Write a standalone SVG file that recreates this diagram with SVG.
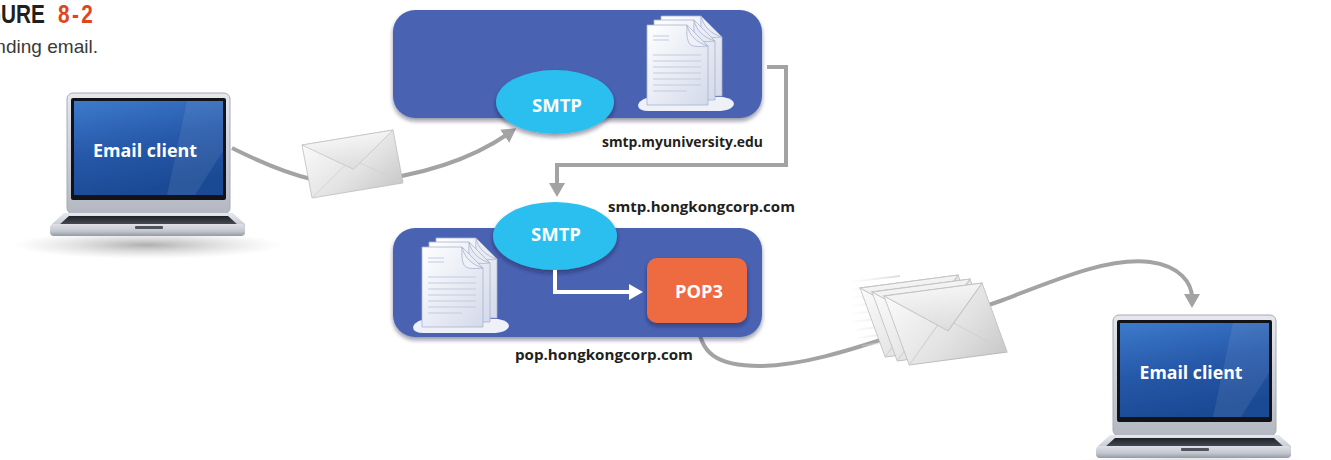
<svg xmlns="http://www.w3.org/2000/svg" xmlns:xlink="http://www.w3.org/1999/xlink" width="1331" height="460" viewBox="0 0 1331 460">
  <style>
    .title { font-family: "Liberation Sans", Arial, sans-serif; font-weight: 700; font-size: 26px; }
    .sub { font-family: "Liberation Sans", Arial, sans-serif; font-size: 19px; fill: #3a3a3a; }
    .screen-label { font-family: "Open Sans", "Noto Sans", sans-serif; font-weight: 700; font-size: 18px; fill: #ffffff; }
    .proto { font-family: "Open Sans", "Noto Sans", sans-serif; font-weight: 700; font-size: 17px; fill: #ffffff; }
    .host { font-family: "Open Sans", "Noto Sans", sans-serif; font-weight: 700; font-size: 15px; fill: #231f20; }
    .server { fill: #4a62b2; }
    .smtp { fill: #2bbfee; }
    .pop { fill: #ee6b40; }
    .wire { fill: none; stroke: #a3a3a3; stroke-width: 4; }
    .wire-white { fill: none; stroke: #ffffff; stroke-width: 4; }
  </style>
  <defs>
    <linearGradient id="silver" x1="0" y1="0" x2="0" y2="1">
      <stop offset="0" stop-color="#e6e8ee"/>
      <stop offset="1" stop-color="#b3b7c1"/>
    </linearGradient>
    <linearGradient id="lip" x1="0" y1="0" x2="0" y2="1">
      <stop offset="0" stop-color="#dfe1e7"/>
      <stop offset="0.6" stop-color="#c2c6ce"/>
      <stop offset="1" stop-color="#9499a3"/>
    </linearGradient>
    <linearGradient id="kbd" x1="0" y1="0" x2="0" y2="1">
      <stop offset="0" stop-color="#202228"/>
      <stop offset="1" stop-color="#4a4e57"/>
    </linearGradient>
    <linearGradient id="screenGrad" x1="0" y1="0" x2="0.3" y2="1">
      <stop offset="0" stop-color="#3d7acb"/>
      <stop offset="0.55" stop-color="#2658a9"/>
      <stop offset="1" stop-color="#1b4a95"/>
    </linearGradient>
    <linearGradient id="paper" x1="0" y1="0" x2="1" y2="1">
      <stop offset="0" stop-color="#ffffff"/>
      <stop offset="1" stop-color="#d3daea"/>
    </linearGradient>
    <linearGradient id="envGrad" x1="0" y1="0" x2="1" y2="1">
      <stop offset="0" stop-color="#fbfbfb"/>
      <stop offset="0.6" stop-color="#e2e2e2"/>
      <stop offset="1" stop-color="#c9c9c9"/>
    </linearGradient>
    <linearGradient id="flapGrad" x1="0" y1="0" x2="0" y2="1">
      <stop offset="0" stop-color="#f4f4f4"/>
      <stop offset="1" stop-color="#dcdcdc"/>
    </linearGradient>
    <linearGradient id="speed" x1="0" y1="0" x2="1" y2="0">
      <stop offset="0" stop-color="#e6e6e6" stop-opacity="0"/>
      <stop offset="1" stop-color="#d8d8d8" stop-opacity="0.9"/>
    </linearGradient>
    <radialGradient id="floor" cx="0.5" cy="0.5" r="0.5">
      <stop offset="0" stop-color="#8c8c8c" stop-opacity="0.7"/>
      <stop offset="1" stop-color="#bdbdbd" stop-opacity="0"/>
    </radialGradient>
    <filter id="drop" x="-10%" y="-10%" width="120%" height="130%">
      <feDropShadow dx="0" dy="3" stdDeviation="2" flood-color="#1a1f3a" flood-opacity="0.45"/>
    </filter>
    <marker id="head" viewBox="0 0 14 16" refX="4" refY="8" markerWidth="14" markerHeight="16" markerUnits="userSpaceOnUse" orient="auto">
      <path d="M0,0 L14,8 L0,16 Z" fill="#a3a3a3"/>
    </marker>
    <marker id="headWhite" viewBox="0 0 14 16" refX="4" refY="8" markerWidth="14" markerHeight="16" markerUnits="userSpaceOnUse" orient="auto">
      <path d="M0,0 L14,8 L0,16 Z" fill="#ffffff"/>
    </marker>

    <!-- laptop, origin at the top-left of the lid -->
    <g id="laptop">
      <ellipse cx="80" cy="152" rx="135" ry="14" fill="url(#floor)"/>
      <rect x="0" y="0" width="163" height="121" rx="6" fill="url(#silver)" stroke="#a6aab3" stroke-width="1"/>
      <rect x="4" y="5" width="155" height="102" rx="2" fill="#121316"/>
      <rect x="7" y="8" width="149" height="94" fill="url(#screenGrad)"/>
      <path d="M120,8 L156,8 L156,58 L128,102 L100,102 Z" fill="#ffffff" opacity="0.08"/>
      <path d="M-3,120 L166,120 L178,131 L178,141 L-15,141 L-15,131 Z" fill="url(#silver)"/>
      <path d="M2,123 L161,123 L171,132 L-8,132 Z" fill="url(#kbd)"/>
      <rect x="-17" y="131" width="195" height="12" rx="4" fill="url(#lip)"/>
      <rect x="68" y="133" width="28" height="3" rx="1" fill="#4f535b"/>
    </g>

    <!-- stack of three pages resting on a soft base -->
    <g id="pages">
      <path d="M-9,80 Q-6,72 8,72 L76,72 Q87,74 87,79 Q85,86 70,86 L2,86 Q-9,86 -9,80 Z" fill="#eef1f8"/>
      <g transform="translate(14,-9)">
        <path d="M0,0 H40 L61,21 V80 H0 Z" fill="url(#paper)" stroke="#a9b3cd" stroke-width="0.8"/>
        <path d="M40,0 C42,10 50,18 61,21 C52,22 44,22 42,18 C39,12 40,6 40,0 Z" fill="#e6ebf5" stroke="#a9b3cd" stroke-width="0.8"/>
      </g>
      <g transform="translate(7,-5)">
        <path d="M0,0 H40 L61,21 V80 H0 Z" fill="url(#paper)" stroke="#a9b3cd" stroke-width="0.8"/>
        <path d="M40,0 C42,10 50,18 61,21 C52,22 44,22 42,18 C39,12 40,6 40,0 Z" fill="#e6ebf5" stroke="#a9b3cd" stroke-width="0.8"/>
      </g>
      <path d="M0,0 H40 L61,21 V80 H0 Z" fill="url(#paper)" stroke="#a9b3cd" stroke-width="0.8"/>
      <path d="M40,0 C42,10 50,18 61,21 C52,22 44,22 42,18 C39,12 40,6 40,0 Z" fill="#eef1f8" stroke="#a9b3cd" stroke-width="0.8"/>
      <g stroke="#c3cbe0" stroke-width="1">
        <path d="M6,11 H22 M6,15 H22 M6,30 H54 M6,36 H54 M6,42 H54 M6,48 H54 M6,54 H54 M6,60 H54 M6,66 H40"/>
      </g>
    </g>

    <!-- envelope in a 100 x 60 frame -->
    <g id="envelope">
      <rect x="0" y="0" width="100" height="60" fill="url(#envGrad)" stroke="#bcbcbc" stroke-width="0.8"/>
      <path d="M0,60 L42,30 M100,60 L58,30" stroke="#cfcfcf" stroke-width="0.8" fill="none"/>
      <path d="M0,0 L50,36 L100,0 Z" fill="url(#flapGrad)" stroke="#c2c2c2" stroke-width="0.8"/>
    </g>
  </defs>

  <!-- caption: condensed bold heading, then the caption line -->
  <g id="caption">
    <text class="title" transform="scale(0.8,1)" y="23"><tspan x="-42" fill="#231f20">FIGURE</tspan><tspan x="72.5" fill="#e0461e" letter-spacing="3">8-2</tspan></text>
    <text class="sub" x="-28" y="53" textLength="126" lengthAdjust="spacingAndGlyphs">Sending email.</text>
  </g>

  <!-- connectors -->
  <g id="connectors">
    <path class="wire" d="M232,148 C300,182 335,186 360,182 C420,176 470,160 508,134" marker-end="url(#head)"/>
    <path class="wire" d="M767,67 H786 V165 H557 V187" marker-end="url(#head)"/>
    <path class="wire" d="M698,323 C700,352 715,366 760,366 C800,366 850,350 890,337 C930,324 970,312 1003,300 C1060,278 1110,257 1150,262 C1180,266 1192,283 1192,298" marker-end="url(#head)"/>
  </g>

  <!-- sending client -->
  <g id="client-sender">
    <use xlink:href="#laptop" href="#laptop" x="67" y="93"/>
    <text class="screen-label" x="145" y="157" text-anchor="middle" textLength="104" lengthAdjust="spacingAndGlyphs">Email client</text>
  </g>

  <!-- message in transit -->
  <g id="message-out">
    <use xlink:href="#envelope" href="#envelope" transform="matrix(0.91,-0.15,0.167,0.883,302,145)"/>
  </g>

  <!-- outgoing mail server -->
  <g id="server-myuniversity">
    <rect class="server" x="393" y="10" width="369" height="108" rx="22" filter="url(#drop)"/>
    <use xlink:href="#pages" href="#pages" x="647" y="25"/>
    <ellipse class="smtp" cx="555" cy="102" rx="59" ry="32" filter="url(#drop)"/>
    <text class="proto" x="557" y="112" text-anchor="middle" textLength="50" lengthAdjust="spacingAndGlyphs">SMTP</text>
    <text class="host" x="602" y="147" textLength="161" lengthAdjust="spacingAndGlyphs">smtp.myuniversity.edu</text>
  </g>

  <!-- receiving mail server -->
  <g id="server-hongkongcorp">
    <rect class="server" x="393" y="228" width="369" height="109" rx="22" filter="url(#drop)"/>
    <use xlink:href="#pages" href="#pages" x="422" y="247"/>
    <ellipse class="smtp" cx="555" cy="236" rx="62" ry="34" filter="url(#drop)"/>
    <text class="proto" x="556" y="241" text-anchor="middle" textLength="50" lengthAdjust="spacingAndGlyphs">SMTP</text>
    <text class="host" x="608" y="212" textLength="187" lengthAdjust="spacingAndGlyphs">smtp.hongkongcorp.com</text>
    <path class="wire-white" d="M555,270 V292 H633" marker-end="url(#headWhite)"/>
    <rect class="pop" x="647" y="258" width="100" height="65" rx="10" filter="url(#drop)"/>
    <text class="proto" x="699" y="298" text-anchor="middle" textLength="48" lengthAdjust="spacingAndGlyphs">POP3</text>
    <text class="host" x="515" y="360" textLength="178" lengthAdjust="spacingAndGlyphs">pop.hongkongcorp.com</text>
  </g>

  <!-- messages being retrieved -->
  <g id="messages-in">
    <g stroke="url(#speed)" stroke-width="2" fill="none">
      <path d="M850,282 L900,276 M848,290 L900,284 M850,298 L900,292 M852,306 L900,300 M850,314 L900,308 M852,322 L900,316 M855,330 L900,324 M858,338 L900,332 M862,346 L900,340"/>
    </g>
    <use xlink:href="#envelope" href="#envelope" transform="matrix(0.98,-0.13,0.42,1.15,860,288)"/>
    <use xlink:href="#envelope" href="#envelope" transform="matrix(0.98,-0.13,0.42,1.15,872,292)"/>
    <use xlink:href="#envelope" href="#envelope" transform="matrix(0.98,-0.13,0.42,1.15,884,296)"/>
  </g>

  <!-- receiving client -->
  <g id="client-receiver">
    <use xlink:href="#laptop" href="#laptop" x="1113" y="315"/>
    <text class="screen-label" x="1191" y="379" text-anchor="middle" textLength="103" lengthAdjust="spacingAndGlyphs">Email client</text>
  </g>
</svg>
